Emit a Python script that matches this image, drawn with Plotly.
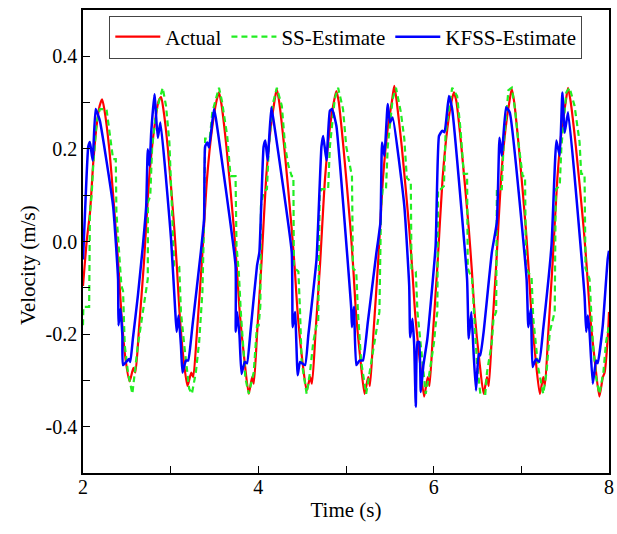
import plotly.graph_objects as go

# ---------------- data ----------------
actual_t = [2.000, 2.045, 2.080, 2.117, 2.155, 2.190, 2.218, 2.243, 2.297, 2.373, 2.406, 2.438, 2.485, 2.532,
            2.575, 2.597, 2.640, 2.694, 2.755, 2.812, 2.862, 2.891, 2.915, 2.966, 3.041, 3.072, 3.102, 3.147,
            3.192, 3.235, 3.257, 3.300, 3.354, 3.415, 3.472, 3.522, 3.551, 3.578, 3.636, 3.721, 3.755, 3.789,
            3.840, 3.891, 3.929, 3.948, 3.987, 4.035, 4.089, 4.140, 4.184, 4.210, 4.237, 4.295, 4.380, 4.415,
            4.449, 4.500, 4.551, 4.592, 4.612, 4.653, 4.704, 4.761, 4.815, 4.863, 4.890, 4.916, 4.970, 5.051,
            5.083, 5.115, 5.164, 5.212, 5.253, 5.273, 5.314, 5.365, 5.422, 5.476, 5.524, 5.551, 5.578, 5.636,
            5.721, 5.755, 5.789, 5.840, 5.891, 5.932, 5.952, 5.993, 6.044, 6.102, 6.156, 6.204, 6.231, 6.259,
            6.316, 6.400, 6.434, 6.468, 6.519, 6.570, 6.608, 6.628, 6.666, 6.714, 6.769, 6.820, 6.865, 6.891,
            6.917, 6.971, 7.051, 7.083, 7.115, 7.163, 7.211, 7.250, 7.269, 7.308, 7.356, 7.411, 7.462, 7.507,
            7.533, 7.562, 7.622, 7.711, 7.747, 7.783, 7.836, 7.890, 7.930, 7.950, 7.990, 8.000]
actual_v = [-0.096, 0.006, 0.063, 0.171, 0.250, 0.293, 0.307, 0.286, 0.205, 0.029, -0.058, -0.156, -0.254, -0.302,
            -0.273, -0.283, -0.185, -0.049, 0.137, 0.244, 0.303, 0.312, 0.288, 0.205, 0.029, -0.058, -0.156, -0.254,
            -0.312, -0.283, -0.293, -0.195, -0.049, 0.137, 0.244, 0.303, 0.322, 0.298, 0.205, 0.029, -0.058, -0.156,
            -0.254, -0.329, -0.293, -0.307, -0.195, -0.049, 0.137, 0.244, 0.303, 0.329, 0.303, 0.205, 0.029, -0.058,
            -0.156, -0.254, -0.322, -0.293, -0.307, -0.195, -0.049, 0.137, 0.244, 0.303, 0.325, 0.303, 0.205, 0.029,
            -0.058, -0.156, -0.254, -0.329, -0.293, -0.312, -0.195, -0.049, 0.137, 0.244, 0.303, 0.336, 0.303, 0.205,
            0.029, -0.058, -0.156, -0.254, -0.335, -0.293, -0.312, -0.195, -0.049, 0.137, 0.244, 0.303, 0.322, 0.303,
            0.205, 0.029, -0.058, -0.156, -0.254, -0.329, -0.293, -0.312, -0.195, -0.049, 0.137, 0.244, 0.303, 0.329,
            0.303, 0.205, 0.029, -0.058, -0.156, -0.254, -0.329, -0.293, -0.312, -0.195, -0.049, 0.137, 0.244, 0.303,
            0.332, 0.303, 0.205, 0.029, -0.058, -0.156, -0.254, -0.335, -0.293, -0.283, -0.195, -0.152]

ss_t = [2.000, 2.004, 2.070, 2.079, 2.098, 2.117, 2.155, 2.192, 2.268, 2.306, 2.343, 2.374, 2.381, 2.438, 2.457,
        2.476, 2.513, 2.563, 2.589, 2.626, 2.683, 2.739, 2.741, 2.767, 2.789, 2.834, 2.909, 2.947, 2.985, 3.040,
        3.098, 3.117, 3.155, 3.211, 3.242, 3.287, 3.325, 3.362, 3.385, 3.393, 3.446, 3.475, 3.551, 3.585, 3.645,
        3.683, 3.740, 3.751, 3.777, 3.800, 3.853, 3.891, 3.947, 3.985, 4.004, 4.023, 4.030, 4.060, 4.098, 4.120,
        4.160, 4.211, 4.268, 4.306, 4.343, 4.381, 4.400, 4.405, 4.419, 4.457, 4.476, 4.494, 4.551, 4.589, 4.626,
        4.664, 4.683, 4.700, 4.720, 4.796, 4.816, 4.872, 4.910, 4.966, 5.003, 5.060, 5.068, 5.079, 5.117, 5.136,
        5.173, 5.230, 5.268, 5.325, 5.362, 5.381, 5.400, 5.419, 5.456, 5.476, 5.532, 5.570, 5.626, 5.665, 5.694,
        5.739, 5.747, 5.796, 5.815, 5.872, 5.909, 5.947, 6.004, 6.022, 6.042, 6.050, 6.079, 6.117, 6.136, 6.211,
        6.268, 6.306, 6.344, 6.381, 6.389, 6.438, 6.457, 6.494, 6.532, 6.589, 6.608, 6.664, 6.683, 6.713, 6.721,
        6.777, 6.796, 6.853, 6.891, 6.928, 6.966, 7.015, 7.042, 7.053, 7.117, 7.136, 7.193, 7.250, 7.287, 7.325,
        7.381, 7.392, 7.438, 7.457, 7.513, 7.551, 7.607, 7.664, 7.683, 7.721, 7.732, 7.778, 7.815, 7.853, 7.890,
        7.936, 7.966, 8.000]
ss_v = [-0.181, -0.141, -0.141, 0.063, 0.098, 0.166, 0.257, 0.286, 0.286, 0.235, 0.178, 0.178, 0.063, -0.096, -0.107,
        -0.224, -0.283, -0.329, -0.283, -0.224, -0.152, -0.081, 0.085, 0.098, 0.205, 0.279, 0.332, 0.293, 0.215, -0.052,
        -0.055, -0.152, -0.224, -0.318, -0.329, -0.283, -0.217, -0.109, 0.078, 0.222, 0.222, 0.279, 0.332, 0.303, 0.228,
        0.141, 0.141, -0.010, -0.065, -0.152, -0.296, -0.329, -0.283, -0.181, -0.181, -0.138, 0.078, 0.107, 0.113, 0.205,
        0.293, 0.332, 0.293, 0.205, 0.164, 0.141, 0.141, -0.052, -0.058, -0.065, -0.152, -0.260, -0.329, -0.283, -0.218,
        -0.181, -0.174, 0.100, 0.113, 0.113, 0.205, 0.308, 0.332, 0.286, 0.205, 0.141, 0.141, -0.058, -0.065, -0.152,
        -0.260, -0.329, -0.283, -0.218, -0.166, -0.152, 0.077, 0.113, 0.113, 0.205, 0.308, 0.332, 0.279, 0.222, 0.137,
        0.130, -0.058, -0.065, -0.152, -0.267, -0.329, -0.290, -0.218, -0.181, -0.152, 0.113, 0.113, 0.120, 0.235, 0.332,
        0.314, 0.242, 0.146, 0.146, -0.058, -0.081, -0.152, -0.260, -0.329, -0.329, -0.283, -0.218, -0.166, -0.152, 0.113,
        0.113, 0.205, 0.327, 0.332, 0.286, 0.215, 0.141, 0.141, -0.058, -0.078, -0.166, -0.273, -0.329, -0.283, -0.195,
        -0.152, 0.113, 0.120, 0.205, 0.322, 0.332, 0.293, 0.215, 0.146, 0.146, -0.058, -0.081, -0.218, -0.293, -0.329,
        -0.283, -0.218, -0.181]

kfss_t = [2.000, 2.023, 2.060, 2.079, 2.110, 2.144, 2.192, 2.343, 2.400, 2.405, 2.427, 2.449, 2.456, 2.524, 2.540,
          2.569, 2.626, 2.683, 2.721, 2.739, 2.759, 2.778, 2.815, 2.853, 2.883, 3.004, 3.053, 3.068, 3.090, 3.117,
          3.135, 3.174, 3.200, 3.249, 3.344, 3.381, 3.393, 3.419, 3.438, 3.494, 3.514, 3.740, 3.742, 3.758, 3.785,
          3.808, 3.845, 3.871, 3.910, 3.985, 4.012, 4.060, 4.080, 4.106, 4.148, 4.174, 4.381, 4.392, 4.419, 4.449,
          4.476, 4.533, 4.570, 4.664, 4.720, 4.740, 4.777, 4.816, 4.842, 4.890, 5.060, 5.068, 5.091, 5.117, 5.155,
          5.193, 5.249, 5.343, 5.393, 5.411, 5.438, 5.476, 5.502, 5.532, 5.665, 5.721, 5.732, 5.758, 5.778, 5.796,
          5.815, 5.834, 5.853, 5.883, 5.928, 6.022, 6.061, 6.098, 6.124, 6.174, 6.211, 6.381, 6.400, 6.430, 6.457,
          6.483, 6.514, 6.532, 6.570, 6.664, 6.721, 6.751, 6.777, 6.826, 6.868, 7.060, 7.080, 7.109, 7.128, 7.166,
          7.204, 7.250, 7.344, 7.400, 7.438, 7.468, 7.494, 7.533, 7.721, 7.740, 7.759, 7.778, 7.815, 7.853, 7.872,
          7.929, 7.985, 8.000]
kfss_v = [-0.039, 0.063, 0.205, 0.215, 0.175, 0.286, 0.261, 0.077, -0.081, -0.181, -0.145, -0.203, -0.267, -0.254, -0.260,
          -0.210, -0.117, -0.009, 0.077, 0.199, 0.164, 0.235, 0.318, 0.224, 0.257, 0.006, -0.152, -0.195, -0.160, -0.224,
          -0.283, -0.257, -0.257, -0.181, -0.023, 0.049, 0.205, 0.214, 0.203, 0.286, 0.268, -0.052, -0.195, -0.152, -0.203,
          -0.286, -0.260, -0.263, -0.195, -0.052, -0.023, 0.205, 0.218, 0.175, 0.290, 0.261, -0.023, -0.185, -0.152, -0.289,
          -0.260, -0.267, -0.203, -0.038, 0.205, 0.228, 0.175, 0.282, 0.286, 0.250, -0.146, -0.185, -0.141, -0.267, -0.257,
          -0.257, -0.174, -0.030, 0.042, 0.214, 0.185, 0.297, 0.257, 0.268, 0.077, -0.096, -0.207, -0.167, -0.224, -0.357,
          -0.217, -0.217, -0.325, -0.267, -0.210, -0.010, 0.228, 0.239, 0.236, 0.314, 0.286, -0.081, -0.210, -0.152, -0.246,
          -0.322, -0.243, -0.246, -0.195, -0.023, 0.042, 0.224, 0.185, 0.290, 0.279, -0.081, -0.185, -0.146, -0.271, -0.254,
          -0.260, -0.188, -0.009, 0.218, 0.185, 0.322, 0.235, 0.279, -0.117, -0.195, -0.160, -0.195, -0.307, -0.257, -0.263,
          -0.181, -0.038, -0.020]

series_names = ["Actual", "SS-Estimate", "KFSS-Estimate"]
x_tick_vals = [2, 4, 6, 8]
x_tick_text = ["2", "4", "6", "8"]
x_minor_vals = [3, 5, 7]
y_tick_vals = [-0.4, -0.2, 0.0, 0.2, 0.4]
y_tick_text = ["-0.4", "-0.2", "0.0", "0.2", "0.4"]
y_minor_vals = [-0.5, -0.3, -0.1, 0.1, 0.3, 0.5]
x_title = "Time (s)"
y_title = "Velocity (m/s)"

FONT = "Liberation Serif, Times New Roman, serif"
tick_font = dict(family=FONT, size=20, color="black")

fig = go.Figure()
fig.add_trace(go.Scatter(x=actual_t, y=actual_v, mode="lines", name=series_names[0],
                         line=dict(color="#ff0000", width=2.2, shape="spline", smoothing=0.6)))
fig.add_trace(go.Scatter(x=ss_t, y=ss_v, mode="lines", name=series_names[1],
                         line=dict(color="#22ee22", width=2.2, dash="6px,4px")))
fig.add_trace(go.Scatter(x=kfss_t, y=kfss_v, mode="lines", name=series_names[2],
                         line=dict(color="#0000ff", width=2.5, shape="spline", smoothing=0.4)))

fig.update_layout(
    width=617, height=534,
    margin=dict(l=83, r=3, t=10, b=61),
    paper_bgcolor="white", plot_bgcolor="white",
    font=dict(family=FONT, size=20, color="black"),
    xaxis=dict(range=[2, 8], tickmode="array", tickvals=x_tick_vals, ticktext=x_tick_text,
               tickfont=tick_font, ticklabelstandoff=-5,
               showline=True, linecolor="black", linewidth=1.5, mirror=True,
               ticks="inside", ticklen=7, tickwidth=1.3, tickcolor="black",
               showgrid=False, zeroline=False,
               minor=dict(tickmode="array", tickvals=x_minor_vals, ticks="inside", ticklen=7,
                          tickwidth=1.3, tickcolor="black", showgrid=False),
               title=dict(text=x_title, font=dict(family=FONT, size=21, color="black"), standoff=6)),
    yaxis=dict(range=[-0.5, 0.5], tickmode="array", tickvals=y_tick_vals, ticktext=y_tick_text,
               tickfont=tick_font,
               showline=True, linecolor="black", linewidth=1.5, mirror=True,
               ticks="inside", ticklen=7, tickwidth=1.3, tickcolor="black",
               showgrid=False, zeroline=False,
               minor=dict(tickmode="array", tickvals=y_minor_vals, ticks="inside", ticklen=7,
                          tickwidth=1.3, tickcolor="black", showgrid=False)),
    annotations=[dict(text=y_title, xref="paper", yref="paper", x=-0.106, y=0.45,
                      xanchor="center", yanchor="middle", textangle=-90, showarrow=False,
                      font=dict(family=FONT, size=21, color="black"))],
    legend=dict(orientation="h", x=0.05, y=0.988, xanchor="left", yanchor="top",
                bgcolor="white", bordercolor="#444", borderwidth=1,
                font=dict(family=FONT, size=21, color="black"),
                itemwidth=45, tracegroupgap=0),
    showlegend=True,
)

fig.write_html("out.html")
